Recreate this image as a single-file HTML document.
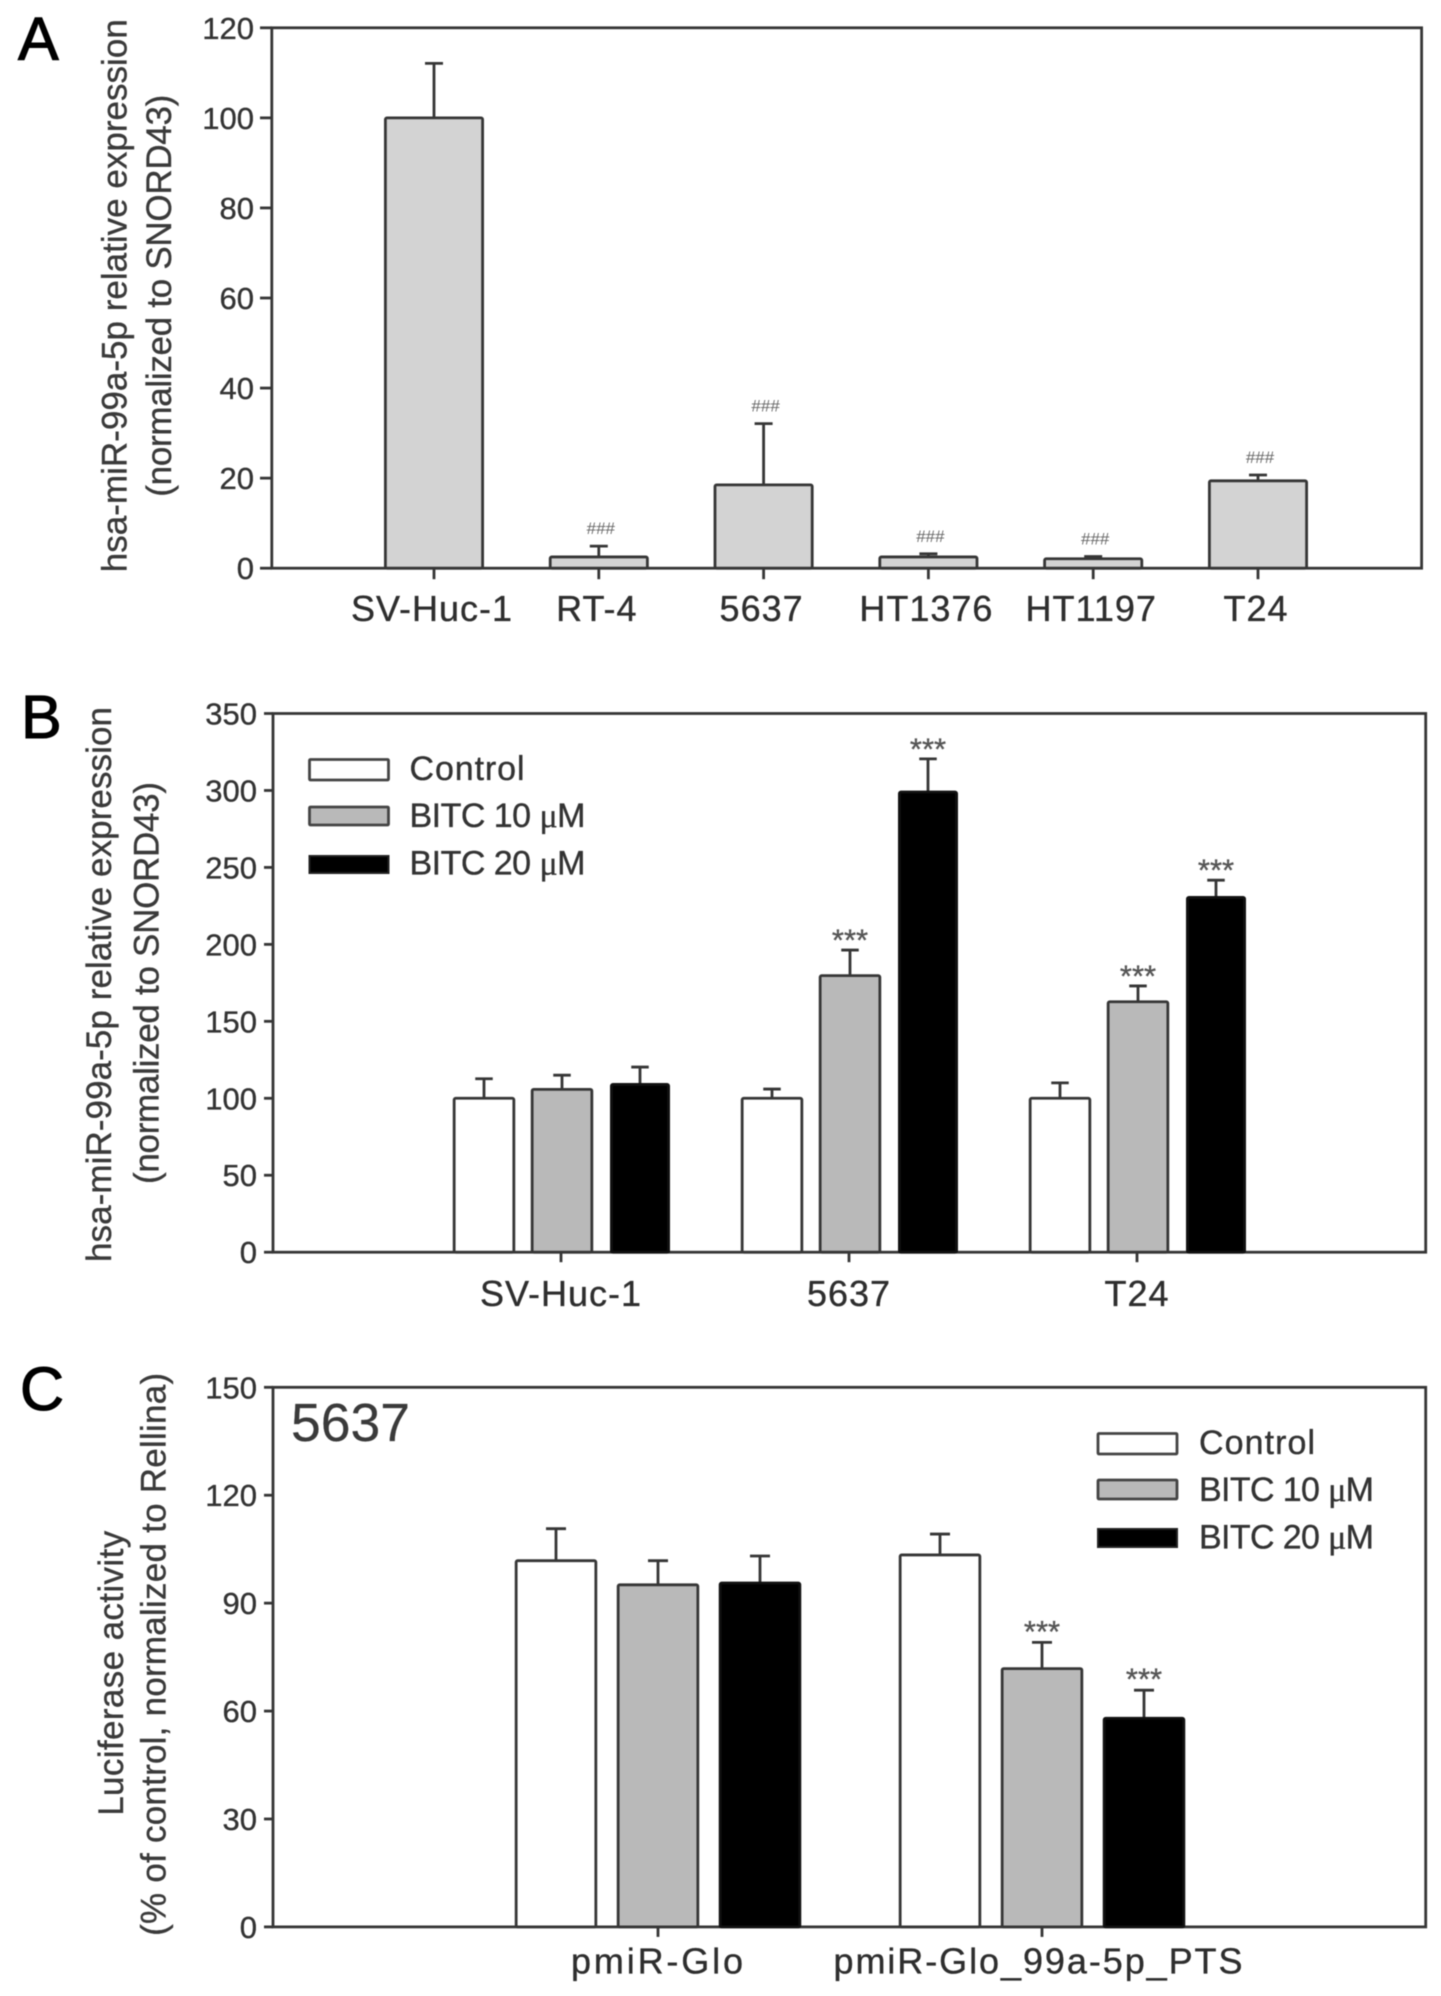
<!DOCTYPE html>
<html lang="en">
<head>
<meta charset="utf-8">
<title>hsa-miR-99a-5p expression bar charts</title>
<style>
html,body{margin:0;padding:0;background:#fff;}
body{width:1441px;height:1996px;overflow:hidden;}
svg{display:block;filter:blur(0.5px);}
text{font-family:"Liberation Sans",sans-serif;fill:#333;stroke:#333;stroke-width:0.35px;}
.letter{font-size:61px;fill:#000;stroke:#000;stroke-width:1.1px;}
.title{font-size:35px;fill:#3a3a3a;stroke:#3a3a3a;}
.legend{font-size:34px;}
.mu{font-family:"Liberation Serif",serif;}
.cell{stroke:#3a3a3a;stroke-width:0.2px;}
</style>
</head>
<body>
<svg id="figure" xmlns="http://www.w3.org/2000/svg" width="1441" height="1996" viewBox="0 0 1441 1996">
  <rect x="0" y="0" width="1441" height="1996" fill="#fff"/>

  <g id="panel-a">
    <text class="letter" x="18" y="60">A</text>
    <text class="title" transform="translate(126.7 295.7) rotate(-90)" text-anchor="middle" textLength="553" lengthAdjust="spacing">hsa-miR-99a-5p relative expression</text>
    <text class="title" transform="translate(170.8 295.7) rotate(-90)" text-anchor="middle" textLength="402" lengthAdjust="spacing">(normalized to SNORD43)</text>
  </g>

  <g id="panel-b">
    <text class="letter" x="21" y="738">B</text>
    <text class="title" transform="translate(111 984.5) rotate(-90)" text-anchor="middle" textLength="555" lengthAdjust="spacing">hsa-miR-99a-5p relative expression</text>
    <text class="title" transform="translate(158.4 983) rotate(-90)" text-anchor="middle" textLength="402" lengthAdjust="spacing">(normalized to SNORD43)</text>
    <g>
      <rect x="309.5" y="759.5" width="79" height="20.5" rx="1" fill="#fff" stroke="#444" stroke-width="2.8"/>
      <text class="legend" x="409.5" y="780" textLength="115" lengthAdjust="spacing">Control</text>
      <rect x="309.5" y="807" width="79" height="18" rx="1" fill="#b9b9b9" stroke="#444" stroke-width="2.8"/>
      <text class="legend" x="409.5" y="827" textLength="176" lengthAdjust="spacing">BITC 10 <tspan class="mu">μ</tspan>M</text>
      <rect x="309.5" y="856" width="79" height="17" fill="#000" stroke="#222" stroke-width="2"/>
      <text class="legend" x="409.5" y="874.5" textLength="176" lengthAdjust="spacing">BITC 20 <tspan class="mu">μ</tspan>M</text>
    </g>
  </g>

  <g id="panel-c">
    <text class="letter" x="20" y="1410">C</text>
    <text class="title" transform="translate(123 1673.3) rotate(-90)" text-anchor="middle" textLength="285" lengthAdjust="spacing">Luciferase activity</text>
    <text class="title" transform="translate(165.3 1654.4) rotate(-90)" text-anchor="middle" textLength="563" lengthAdjust="spacing">(% of control, normalized to Rellina)</text>
    <text class="cell" x="291" y="1441" font-size="53.5" style="fill:#3a3a3a">5637</text>
    <g>
      <rect x="1098" y="1433.5" width="79" height="20.5" rx="1" fill="#fff" stroke="#444" stroke-width="2.8"/>
      <text class="legend" x="1199" y="1454" textLength="116" lengthAdjust="spacing">Control</text>
      <rect x="1098" y="1480" width="79" height="19" rx="1" fill="#b9b9b9" stroke="#444" stroke-width="2.8"/>
      <text class="legend" x="1199" y="1501" textLength="175" lengthAdjust="spacing">BITC 10 <tspan class="mu">μ</tspan>M</text>
      <rect x="1098" y="1529" width="79" height="18" fill="#000" stroke="#222" stroke-width="2"/>
      <text class="legend" x="1199" y="1548.5" textLength="175" lengthAdjust="spacing">BITC 20 <tspan class="mu">μ</tspan>M</text>
    </g>
  </g>
</svg>

<script>
// ---- Panel A data ----
const categoriesA = ['SV-Huc-1', 'RT-4', '5637', 'HT1376', 'HT1197', 'T24'];
const valuesA = [100, 2.5, 18.5, 2.5, 2.1, 19.4];
const errorTopsA = [112.1, 4.9, 32.1, 3.2, 2.6, 20.7];
const markersA = ['', '###', '###', '###', '###', '###'];
const ticksA = [0, 20, 40, 60, 80, 100, 120];

// ---- Panel B data ----
const categoriesB = ['SV-Huc-1', '5637', 'T24'];
const seriesNames = ['control', 'bitc-10', 'bitc-20'];
const controlB = [100, 100, 100];
const bitc10B = [105.8, 179.7, 162.7];
const bitc20B = [109, 299, 230.5];
const controlErrB = [112.7, 106, 110];
const bitc10ErrB = [115, 196.3, 173];
const bitc20ErrB = [120.3, 320.5, 241.7];
const controlMarkB = ['', '', ''];
const bitc10MarkB = ['', '***', '***'];
const bitc20MarkB = ['', '***', '***'];
const ticksB = [0, 50, 100, 150, 200, 250, 300, 350];

// ---- Panel C data ----
const categoriesC = ['pmiR-Glo', 'pmiR-Glo_99a-5p_PTS'];
const controlC = [101.8, 103.4];
const bitc10C = [95.1, 71.8];
const bitc20C = [95.6, 58];
const controlErrC = [110.7, 109.2];
const bitc10ErrC = [101.8, 79.1];
const bitc20ErrC = [103.1, 65.8];
const controlMarkC = ['', ''];
const bitc10MarkC = ['', '***'];
const bitc20MarkC = ['', '***'];
const ticksC = [0, 30, 60, 90, 120, 150];

const SVG_NS = 'http://www.w3.org/2000/svg';
const INK = '#363636';
const LINE_W = 2.8;
const fills = ['#ffffff', '#b9b9b9', '#000000'];

function addLine(parent, name, x1, y1, x2, y2) {
  const el = document.createElementNS(SVG_NS, 'line');
  
  
  el.setAttribute('x1', x1);
  el.setAttribute('y1', y1);
  el.setAttribute('x2', x2);
  el.setAttribute('y2', y2);
  el.setAttribute('stroke', INK);
  el.setAttribute('stroke-width', LINE_W);
  parent.appendChild(el);
}

function addText(parent, name, str, x, y, size, anchor, color, fit, spacing) {
  const el = document.createElementNS(SVG_NS, 'text');
  
  
  el.setAttribute('x', x);
  el.setAttribute('y', y);
  el.setAttribute('font-size', size);
  el.setAttribute('text-anchor', anchor);
  el.style.fill = color;
  el.style.stroke = size < 20 ? 'none' : color;
  if (fit) {
    el.setAttribute('textLength', fit);
    el.setAttribute('lengthAdjust', 'spacing');
  }
  if (spacing) {
    el.style.letterSpacing = spacing + 'px';
  }
  el.textContent = str;
  parent.appendChild(el);
}

function addBar(parent, name, cx, w, yTop, yBase, fill, yErr, capW) {
  const err = document.createElementNS(SVG_NS, 'path');
  
  
  err.setAttribute('d', 'M' + cx + ' ' + yTop + 'V' + yErr + 'M' + (cx - capW / 2) + ' ' + yErr + 'H' + (cx + capW / 2));
  err.setAttribute('stroke', INK);
  err.setAttribute('stroke-width', LINE_W);
  err.setAttribute('fill', 'none');
  parent.appendChild(err);

  const el = document.createElementNS(SVG_NS, 'rect');
  
  
  el.setAttribute('x', cx - w / 2 + 1.4);
  el.setAttribute('y', yTop);
  el.setAttribute('width', w - 2.8);
  el.setAttribute('height', Math.max(0, yBase - yTop));
  el.setAttribute('rx', 1.5);
  el.setAttribute('fill', fill);
  el.setAttribute('stroke', fill === '#000000' ? '#111' : INK);
  el.setAttribute('stroke-width', LINE_W);
  parent.appendChild(el);
}

function drawFrame(parent, box, ticks, yScale, prefix, tickLeft, labelRight) {
  const frame = document.createElementNS(SVG_NS, 'rect');
  
  
  frame.setAttribute('x', box.left);
  frame.setAttribute('y', box.top);
  frame.setAttribute('width', box.right - box.left);
  frame.setAttribute('height', box.bottom - box.top);
  frame.setAttribute('fill', 'none');
  frame.setAttribute('stroke', INK);
  frame.setAttribute('stroke-width', LINE_W);
  parent.appendChild(frame);
  ticks.forEach(function (t) {
    addLine(parent, prefix + '-y-tick', tickLeft, yScale(t), box.left, yScale(t));
    addText(parent, prefix + '-y-tick-label', String(t), labelRight, yScale(t) + 11, 31, 'end', '#333');
  });
}

// ---- Panel A ----
const boxA = { left: 271.8, right: 1421.6, top: 27.8, bottom: 568.2 };
function yA(v) { return boxA.bottom - (v / 120) * (boxA.bottom - boxA.top); }
function xA(i) { return 434 + i * 164.8; }
const panelA = document.getElementById('panel-a');
drawFrame(panelA, boxA, ticksA, yA, 'panel-a', 260, 254);
categoriesA.forEach(function (cat, i) {
  addBar(panelA, 'bar-' + cat.toLowerCase(), xA(i), 100, yA(valuesA[i]), boxA.bottom, '#d3d3d3', yA(errorTopsA[i]), 18);
  addLine(panelA, 'panel-a-x-tick', xA(i), boxA.bottom, xA(i), boxA.bottom + 11);
  addText(panelA, 'panel-a-x-tick-label', cat, xA(i) - 2, 620.8, 36, 'middle', '#2e2e2e', 0, 1);
  if (markersA[i]) {
    addText(panelA, 'panel-a-significance-marker', markersA[i], xA(i) + 2, yA(errorTopsA[i]) - 12, 17, 'middle', '#666');
  }
});

// ---- Panel B ----
const boxB = { left: 273, right: 1425.7, top: 713.5, bottom: 1252.2 };
function yB(v) { return boxB.bottom - (v / 350) * (boxB.bottom - boxB.top); }
function xB(g) { return 561 + g * 288; }
function offsetB(s) { return (s - 1) * 78 + 1; }
const panelB = document.getElementById('panel-b');
const valuesB = [controlB, bitc10B, bitc20B];
const errsB = [controlErrB, bitc10ErrB, bitc20ErrB];
const marksB = [controlMarkB, bitc10MarkB, bitc20MarkB];
drawFrame(panelB, boxB, ticksB, yB, 'panel-b', 264, 257);
categoriesB.forEach(function (cat, g) {
  seriesNames.forEach(function (sn, s) {
    const cx = xB(g) + offsetB(s);
    addBar(panelB, 'bar-' + cat.toLowerCase() + '-' + sn, cx, s === 2 ? 60 : 62.5, yB(valuesB[s][g]), boxB.bottom, fills[s], yB(errsB[s][g]), 17.5);
    if (marksB[s][g]) {
      addText(panelB, 'panel-b-significance-marker', marksB[s][g], cx, yB(errsB[s][g]) - 17 + 17.5, 31, 'middle', '#555');
    }
  });
  addLine(panelB, 'panel-b-x-tick', xB(g), boxB.bottom, xB(g), boxB.bottom + 10);
  addText(panelB, 'panel-b-x-tick-label', cat, xB(g), 1306, 36, 'middle', '#2e2e2e', 0, 1);
});

// ---- Panel C ----
const boxC = { left: 273, right: 1425.7, top: 1387.3, bottom: 1926.9 };
function yC(v) { return boxC.bottom - (v / 150) * (boxC.bottom - boxC.top); }
function xC(g) { return 658 + g * 384; }
function offsetC(s) { return (s - 1) * 102; }
const panelC = document.getElementById('panel-c');
const valuesC = [controlC, bitc10C, bitc20C];
const errsC = [controlErrC, bitc10ErrC, bitc20ErrC];
const marksC = [controlMarkC, bitc10MarkC, bitc20MarkC];
drawFrame(panelC, boxC, ticksC, yC, 'panel-c', 264, 257);
categoriesC.forEach(function (cat, g) {
  seriesNames.forEach(function (sn, s) {
    const cx = xC(g) + offsetC(s);
    addBar(panelC, 'bar-' + cat.toLowerCase() + '-' + sn, cx, 82.5, yC(valuesC[s][g]), boxC.bottom, fills[s], yC(errsC[s][g]), 20);
    if (marksC[s][g]) {
      addText(panelC, 'panel-c-significance-marker', marksC[s][g], cx, yC(errsC[s][g]) - 18 + 17.5, 31, 'middle', '#555');
    }
  });
  addLine(panelC, 'panel-c-x-tick', xC(g), boxC.bottom, xC(g), boxC.bottom + 10);
  addText(panelC, 'panel-c-x-tick-label', cat, xC(g) - (g ? 4 : 1), 1973.6, 36, 'middle', '#2e2e2e', g ? 409 : 172);
});
</script>
</body>
</html>
